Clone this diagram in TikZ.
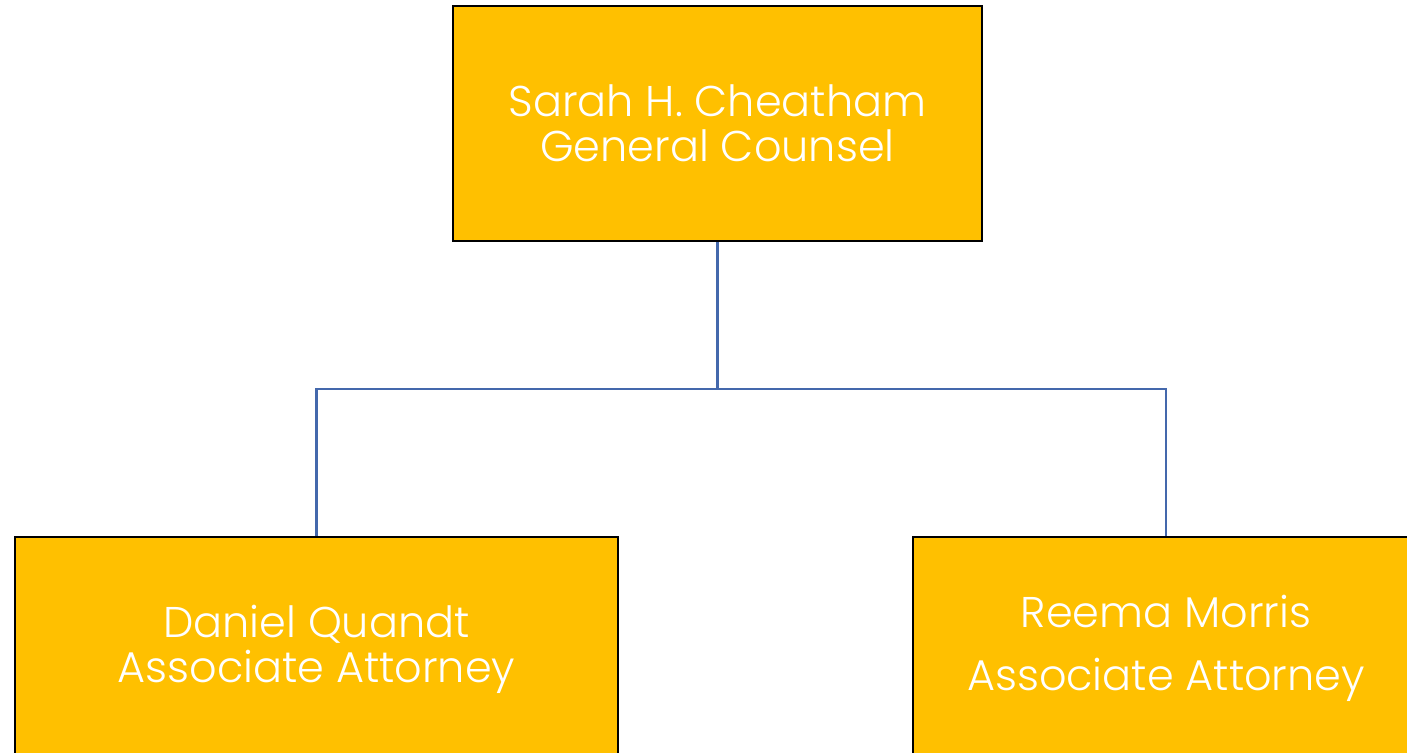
\documentclass[tikz,border=0pt]{standalone}
\usepackage{fontspec}
\setmainfont{Poppins}[UprightFont=*-Light]
\usetikzlibrary{positioning}
\definecolor{boxgold}{HTML}{FFC000}
\definecolor{linkblue}{HTML}{4468AC}

\begin{document}
\begin{tikzpicture}[x=0.5pt, y=-0.5pt,
    person/.style={draw=black, line width=1.2pt, fill=boxgold, text=white,
      align=center, inner sep=0pt, font=\fontsize{21.5}{22.5}\selectfont},
    link/.style={draw=linkblue, line width=1.1pt}]
    \useasboundingbox (0,0) rectangle (1407,753);
    \clip (0,0) rectangle (1407,753);
    \node[person, minimum width=264.5pt, minimum height=117.5pt] (sc) at (717.5,123.5) {Sarah H. Cheatham\\General Counsel};
    \node[person, minimum width=301.5pt, minimum height=117.5pt, text depth=11pt] (dq) at (316.5,654.5) {Daniel Quandt\\Associate Attorney};
    \node[person, minimum width=253pt, minimum height=117.5pt, text depth=12pt] (rm) at (1166,654.5) {Reema Morris\\[9pt]Associate Attorney};
    \coordinate (bus) at (717.5,389);
    \draw[link] (sc.south) -- (bus) -| (dq.north);
    \draw[link] (bus) -| (rm.north);
\end{tikzpicture}
\end{document}
